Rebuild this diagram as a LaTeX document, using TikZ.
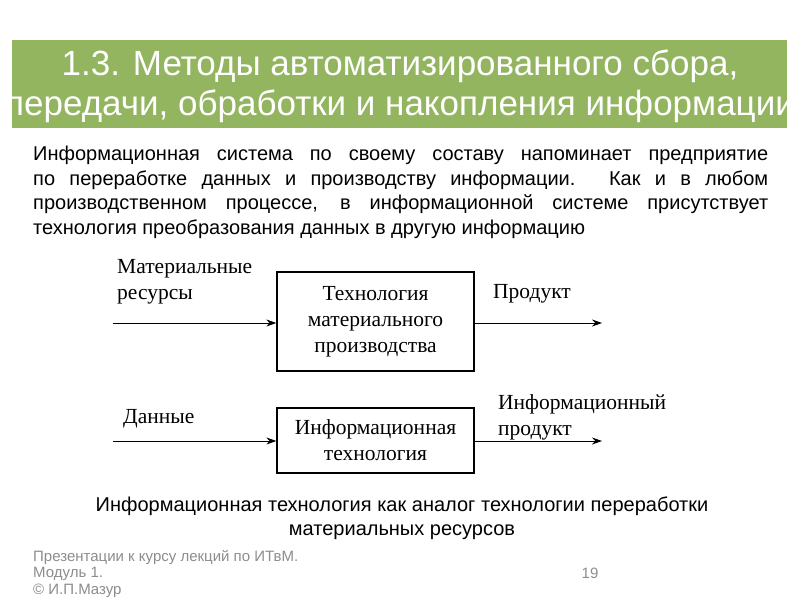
\documentclass[tikz,border=0pt]{standalone}
\usepackage{fontspec}
\setmainfont{Liberation Sans}
\newfontfamily\serifru{Liberation Serif}
\usetikzlibrary{arrows.meta}
\definecolor{titlegreen}{HTML}{93B560}
\definecolor{footgray}{HTML}{8C8C8C}
\tikzset{
  blk/.style={draw,line width=1.3pt,minimum width=197pt,align=center,font=\serifru\fontsize{21.5}{26}\selectfont},
  lbl/.style={font=\serifru\fontsize{21.5}{26}\selectfont,align=left,anchor=west,inner sep=0},
  arr/.style={-{Stealth[length=10pt,width=7pt]},line width=0.9pt}
}
\begin{document}
\begin{tikzpicture}[x=1pt,y=-1pt]
\useasboundingbox (0,0) rectangle (800,600);
\fill[titlegreen] (12,40) rectangle (787,128);
\node[text=white,align=center,font=\fontsize{35}{40}\selectfont] (title) at (400,86) {1.3. Методы автоматизированного сбора,\\передачи, обработки и накопления информации};
\node[text width=735pt,align=justify,anchor=north west,inner sep=0,font=\fontsize{20}{24.5}\selectfont] (body) at (33,146) {Информационная система по своему составу напоминает предприятие по переработке данных и производству информации. Как и в любом производственном процессе, в информационной системе присутствует технология преобразования данных в другую информацию};
\node[blk,minimum height=99pt] (b1) at (375.5,321.5) {Технология\\материального\\производства};
\node[blk,minimum height=65pt] (b2) at (375.5,440.5) {Информационная\\технология};
\coordinate (in1) at (113,323);
\coordinate (out1) at (602,323);
\coordinate (in2) at (113,441);
\coordinate (out2) at (602,441);
\draw[arr] (in1) -- (in1 -| b1.west);
\draw[arr] (b1.east |- out1) -- (out1);
\draw[arr] (in2) -- (in2 -| b2.west);
\draw[arr] (b2.east |- out2) -- (out2);
\node[lbl] (l1) at (117,282) {Материальные\\ресурсы};
\node[lbl] (l2) at (493,294) {Продукт};
\node[lbl] (l3) at (123,419) {Данные};
\node[lbl] (l4) at (498,417) {Информационный\\продукт};
\node[align=center,font=\fontsize{20}{24}\selectfont] (cap) at (402,518) {Информационная технология как аналог технологии переработки\\материальных ресурсов};
\node[anchor=north west,inner sep=0,align=left,text=footgray,font=\fontsize{15}{16.5}\selectfont] (foot) at (33,550) {Презентации к курсу лекций по ИТвМ.\\Модуль 1.\\© И.П.Мазур};
\node[text=footgray,font=\fontsize{15}{16}\selectfont] (pg) at (590,573) {19};
\end{tikzpicture}
\end{document}
